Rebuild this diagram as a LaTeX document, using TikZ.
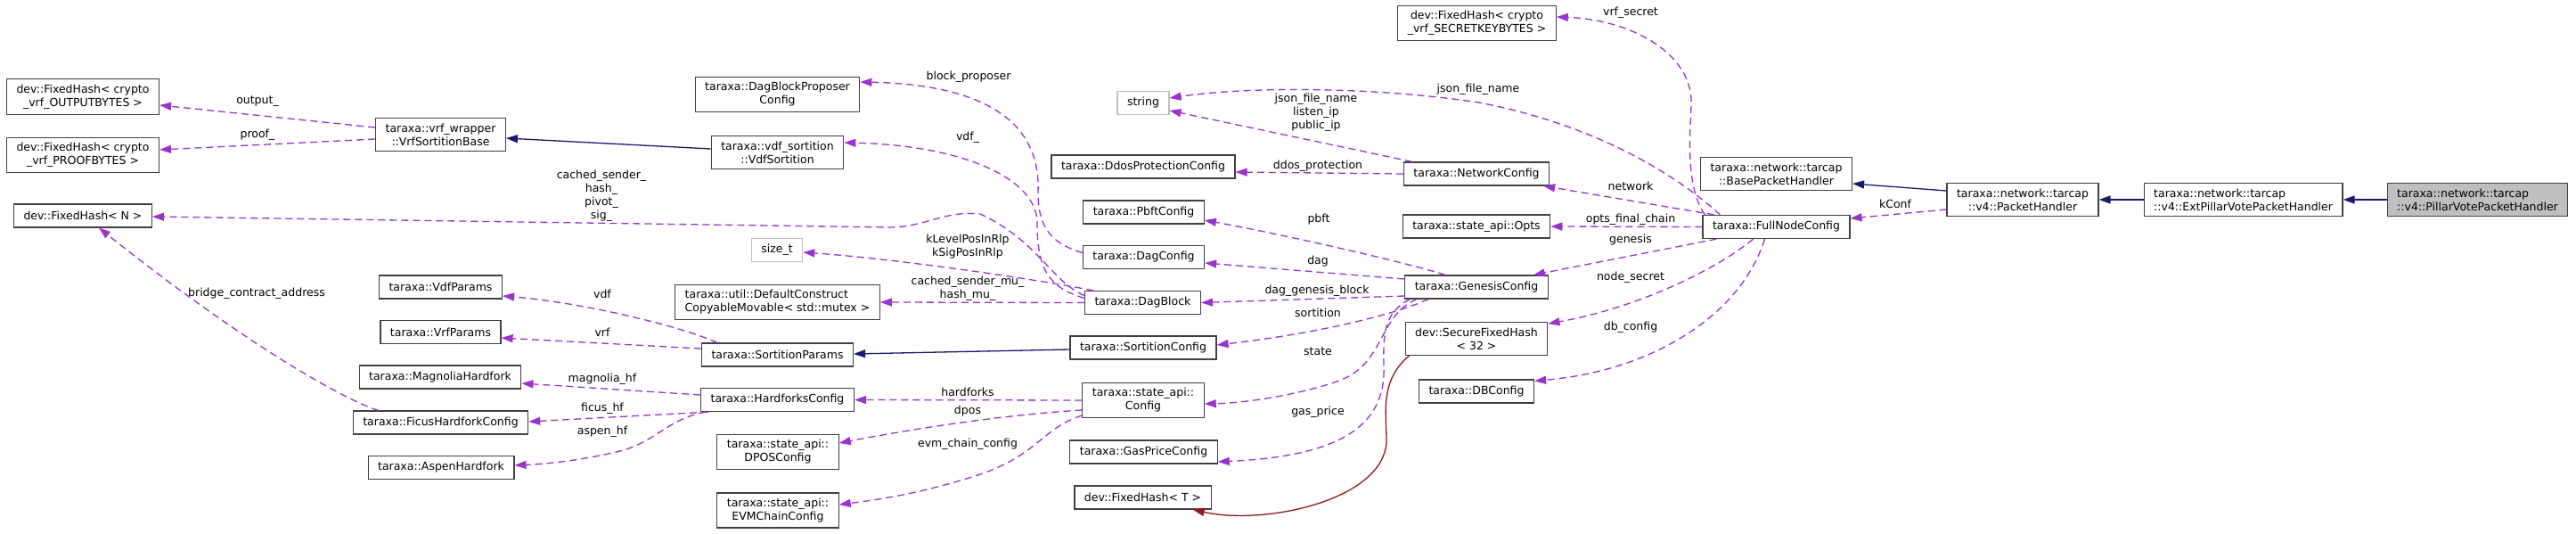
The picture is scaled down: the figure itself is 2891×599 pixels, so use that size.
\documentclass[tikz,border=0pt]{standalone}
\usepackage{fontspec}
\setmainfont{DejaVu Sans}
\usepackage{tikz}
\usetikzlibrary{
  arrows.meta,
  positioning
}
\definecolor{usecolor}{RGB}{154, 50, 205}
\definecolor{inheritcolor}{RGB}{25, 25, 112}
\definecolor{templatecolor}{RGB}{139, 26, 26}
\definecolor{bordercolor}{RGB}{64, 64, 64}
\definecolor{undoccolor}{RGB}{191, 191, 191}
\definecolor{focuscolor}{RGB}{191, 191, 191}
\tikzset{
classtext/.style={
  font=\fontsize{12.5}{15}\selectfont,
  text=black
},
classbox/.style={
  draw=bordercolor,
  line width=1.2pt,
  fill=white,
  inner xsep=11pt,
  inner ysep=6pt,
  minimum height=26pt,
  align=center,
  classtext
},
undocbox/.style={
  classbox,
  draw=undoccolor
},
focusbox/.style={
  classbox,
  fill=focuscolor
},
edgelabel/.style={
  align=center,
  inner sep=0pt,
  classtext
}
}

\begin{document}
\begin{tikzpicture}[
      x=1pt, y=-1pt,
      usearr/.style={-{Triangle[length=13pt,width=9pt]}, line width=1.3pt, draw=usecolor, dash pattern=on 8pt off 5pt},
      inharr/.style={-{Triangle[length=13pt,width=9pt]}, line width=1.3pt, draw=inheritcolor},
      tplarr/.style={-{Triangle[length=13pt,width=9pt]}, line width=1.3pt, draw=templatecolor},
    ]
      \useasboundingbox (0,0) rectangle (2891,599);

      % Column 1: hash types
      \node[classbox] (fhout) at (93,108.5) {dev::FixedHash< crypto\\\_vrf\_OUTPUTBYTES >};
      \node[classbox] (fhproof) at (93,174) {dev::FixedHash< crypto\\\_vrf\_PROOFBYTES >};
      \node[classbox] (fhN) at (93,242) {dev::FixedHash< N >};

      % Column 2: params and hardforks
      \node[classbox] (vrfbase) at (494.5,151) {taraxa::vrf\_wrapper\\::VrfSortitionBase};
      \node[classbox] (vdfparams) at (494.5,322) {taraxa::VdfParams};
      \node[classbox] (vrfparams) at (494.5,372.5) {taraxa::VrfParams};
      \node[classbox] (magnolia) at (494,423) {taraxa::MagnoliaHardfork};
      \node[classbox] (ficus) at (494.5,474) {taraxa::FicusHardforkConfig};
      \node[classbox] (aspen) at (495,524.5) {taraxa::AspenHardfork};

      % Column 3
      \node[classbox] (dbpconf) at (872.5,106) {taraxa::DagBlockProposer\\Config};
      \node[classbox] (vdfsort) at (872.5,171) {taraxa::vdf\_sortition\\::VdfSortition};
      \node[undocbox] (sizet) at (872,280.5) {size\_t};
      \node[classbox, align=left] (defconst) at (872.5,339) {taraxa::util::DefaultConstruct\\CopyableMovable< std::mutex >};
      \node[classbox] (sortparams) at (872.5,398) {taraxa::SortitionParams};
      \node[classbox] (hfconfig) at (872.5,448.5) {taraxa::HardforksConfig};
      \node[classbox] (dposconf) at (873,507) {taraxa::state\_api::\\DPOSConfig};
      \node[classbox] (evmconf) at (873,572.5) {taraxa::state\_api::\\EVMChainConfig};

      % Column 4
      \node[undocbox] (string) at (1283,115.5) {string};
      \node[classbox] (ddos) at (1283,187) {taraxa::DdosProtectionConfig};
      \node[classbox] (pbft) at (1283.5,238) {taraxa::PbftConfig};
      \node[classbox] (dagconf) at (1283.5,288.5) {taraxa::DagConfig};
      \node[classbox] (dagblock) at (1282.5,339.5) {taraxa::DagBlock};
      \node[classbox] (sortconf) at (1283,390) {taraxa::SortitionConfig};
      \node[classbox] (stateconf) at (1283,449) {taraxa::state\_api::\\Config};
      \node[classbox] (gasprice) at (1283.5,507) {taraxa::GasPriceConfig};
      \node[classbox] (fhT) at (1282.5,558) {dev::FixedHash< T >};

      % Column 5
      \node[classbox] (fhsecret) at (1657.5,26) {dev::FixedHash< crypto\\\_vrf\_SECRETKEYBYTES >};
      \node[classbox] (netconf) at (1657,195) {taraxa::NetworkConfig};
      \node[classbox] (opts) at (1657,254) {taraxa::state\_api::Opts};
      \node[classbox] (genesis) at (1657,322) {taraxa::GenesisConfig};
      \node[classbox] (securefh) at (1657,380) {dev::SecureFixedHash\\< 32 >};
      \node[classbox] (dbconf) at (1657,439) {taraxa::DBConfig};

      % Column 6
      \node[classbox] (basepkt) at (1993.5,195) {taraxa::network::tarcap\\::BasePacketHandler};
      \node[classbox] (fullnode) at (1993.5,254.5) {taraxa::FullNodeConfig};

      % Packet handler chain (right to left)
      \node[focusbox, align=left] (pillar) at (2780.5,224) {taraxa::network::tarcap\\::v4::PillarVotePacketHandler};
      \node[classbox, align=left, left=49pt of pillar] (extpkt) {taraxa::network::tarcap\\::v4::ExtPillarVotePacketHandler};
      \node[classbox, left=50pt of extpkt] (pkt) {taraxa::network::tarcap\\::v4::PacketHandler};

      % Edge labels
      \node[edgelabel] (l-output) at (289,114) {output\_};
      \node[edgelabel] (l-proof) at (289,151) {proof\_};
      \node[edgelabel] (l-fhn) at (675,220) {cached\_sender\_\\hash\_\\pivot\_\\sig\_};
      \node[edgelabel] (l-bridge) at (288,329) {bridge\_contract\_address};
      \node[edgelabel] (l-vdf) at (676,330) {vdf};
      \node[edgelabel] (l-vrf) at (676,373) {vrf};
      \node[edgelabel] (l-magnolia) at (676,425) {magnolia\_hf};
      \node[edgelabel] (l-ficus) at (676,458) {ficus\_hf};
      \node[edgelabel] (l-aspen) at (676,484) {aspen\_hf};
      \node[edgelabel] (l-proposer) at (1087,86) {block\_proposer};
      \node[edgelabel] (l-vdfsort) at (1086,154) {vdf\_};
      \node[edgelabel] (l-rlp) at (1086,276.5) {kLevelPosInRlp\\kSigPosInRlp};
      \node[edgelabel] (l-mutex) at (1086,323.5) {cached\_sender\_mu\_\\hash\_mu\_};
      \node[edgelabel] (l-hardforks) at (1086,440) {hardforks};
      \node[edgelabel] (l-dpos) at (1086,461) {dpos};
      \node[edgelabel] (l-evm) at (1086,498) {evm\_chain\_config};
      \node[edgelabel] (l-netstring) at (1477,126) {json\_file\_name\\listen\_ip\\public\_ip};
      \node[edgelabel] (l-ddos) at (1479,186) {ddos\_protection};
      \node[edgelabel] (l-pbft) at (1480,246) {pbft};
      \node[edgelabel] (l-dag) at (1479,293) {dag};
      \node[edgelabel] (l-genblock) at (1478,326) {dag\_genesis\_block};
      \node[edgelabel] (l-sortition) at (1479,351) {sortition};
      \node[edgelabel] (l-state) at (1479,394) {state};
      \node[edgelabel] (l-gas) at (1479,462) {gas\_price};
      \node[edgelabel] (l-jsonfile) at (1659,100) {json\_file\_name};
      \node[edgelabel] (l-vrfsecret) at (1830,14) {vrf\_secret};
      \node[edgelabel] (l-network) at (1830,209) {network};
      \node[edgelabel] (l-opts) at (1830,246) {opts\_final\_chain};
      \node[edgelabel] (l-genesis) at (1830,269) {genesis};
      \node[edgelabel] (l-nodesecret) at (1830,311) {node\_secret};
      \node[edgelabel] (l-dbconf) at (1830,367) {db\_config};
      \node[edgelabel] (l-kconf) at (2127,229) {kConf};

      % Inheritance
      \draw[inharr] ([yshift=4pt]vdfsort.west) -- ([yshift=-4pt]vrfbase.east);
      \draw[inharr] ([yshift=-2pt]sortconf.west) -- ([yshift=1pt]sortparams.east);
      \draw[inharr] ([yshift=10pt]pkt.west) -- ([yshift=-11pt]basepkt.east);
      \draw[inharr] (extpkt.west) -- (pkt.east);
      \draw[inharr] (pillar.west) -- (extpkt.east);

      % Template instance
      \draw[tplarr] ([xshift=5pt]securefh.south west) .. controls (1550,425) and (1555,460) .. (1556,490)
        .. controls (1560,560) and (1420,590) .. ([xshift=-21pt]fhT.south east);

      % Members of VrfSortitionBase and DagBlock
      \draw[usearr] ([yshift=8pt]vrfbase.west) -- ([yshift=-9.5pt]fhout.east);
      \draw[usearr] ([yshift=-5pt]vrfbase.west) -- ([yshift=6pt]fhproof.east);
      \draw[usearr] ([yshift=8pt]dagblock.west) .. controls (1180,316) and (1165,270) .. (1100,240)
        .. controls (1060,236) and (1040,254) .. (1000,255) -- ([yshift=-1pt]fhN.east);
      \draw[usearr] ([yshift=5pt]dagblock.west) .. controls (1175,322) and (1164,300) .. (1164,250)
        .. controls (1164,200) and (1080,163) .. ([yshift=11pt]vdfsort.east);
      \draw[usearr] ([xshift=10pt]dagblock.north west) .. controls (1150,311) and (1000,290) .. ([yshift=-2.5pt]sizet.east);
      \draw[usearr] (dagblock.west) -- (defconst.east);
      \draw[usearr] ([yshift=5pt]dagconf.west) .. controls (1175,272) and (1165,250) .. (1165,215)
        .. controls (1168,140) and (1110,95) .. ([yshift=14pt]dbpconf.east);

      % Members of SortitionParams, HardforksConfig, state_api::Config
      \draw[usearr] ([xshift=18pt]sortparams.north west) .. controls (770,368) and (660,340) .. ([yshift=-10pt]vdfparams.east);
      \draw[usearr] ([yshift=7pt]sortparams.west) -- ([yshift=-6.5pt]vrfparams.east);
      \draw[usearr] ([yshift=5.5pt]hfconfig.west) -- ([yshift=-7pt]magnolia.east);
      \draw[usearr] ([xshift=9pt]hfconfig.south west) -- ([yshift=1pt]ficus.east);
      \draw[usearr] ([xshift=6pt]hfconfig.south west) .. controls (750,470) and (740,492) .. (700,505)
        .. controls (660,515) and (620,520) .. ([yshift=2.5pt]aspen.east);
      \draw[usearr] ([xshift=29pt]ficus.north west) .. controls (390,450) and (280,390) .. ([xshift=18pt]fhN.south);
      \draw[usearr] (stateconf.west) -- (hfconfig.east);
      \draw[usearr] ([yshift=-11pt]stateconf.west) .. controls (1130,465) and (1030,480) .. ([yshift=10pt]dposconf.east);
      \draw[usearr] ([yshift=-17pt]stateconf.west) .. controls (1170,480) and (1165,510) .. (1100,532)
        .. controls (1040,552) and (990,560) .. ([yshift=6.5pt]evmconf.east);

      % Members of NetworkConfig and GenesisConfig
      \draw[usearr] ([xshift=10pt]netconf.north west) -- ([yshift=-8.5pt]string.east);
      \draw[usearr] (netconf.west) -- ([yshift=-6pt]ddos.east);
      \draw[usearr] ([xshift=-35pt]genesis.north) .. controls (1580,295) and (1450,265) .. ([yshift=-9pt]pbft.east);
      \draw[usearr] ([yshift=9pt]genesis.west) -- ([yshift=-6.5pt]dagconf.east);
      \draw[usearr] ([yshift=-10pt]genesis.west) -- (dagblock.east);
      \draw[usearr] ([xshift=-54pt]genesis.south) .. controls (1560,355) and (1470,375) .. ([yshift=3pt]sortconf.east);
      \draw[usearr] ([xshift=-67pt]genesis.south) .. controls (1545,355) and (1555,410) .. (1500,428)
        .. controls (1460,442) and (1400,452) .. ([yshift=-4pt]stateconf.east);
      \draw[usearr] ([xshift=6pt]genesis.south west) .. controls (1555,350) and (1552,370) .. (1553,410)
        .. controls (1556,480) and (1500,512) .. ([yshift=-11pt]gasprice.east);

      % Members of FullNodeConfig
      \draw[usearr] ([xshift=-63pt]fullnode.north) .. controls (1880,195) and (1790,140) .. (1660,115)
        .. controls (1540,97) and (1400,97) .. ([yshift=5.5pt]string.east);
      \draw[usearr] ([xshift=-80pt]fullnode.north) .. controls (1895,215) and (1895,170) .. (1898,120)
        .. controls (1902,60) and (1830,22) .. ([yshift=7pt]fhsecret.east);
      \draw[usearr] ([xshift=-70pt]fullnode.north) -- ([xshift=-7pt]netconf.south east);
      \draw[usearr] (fullnode.west) -- (opts.east);
      \draw[usearr] ([xshift=-67pt]fullnode.south) -- ([xshift=-17pt]genesis.north east);
      \draw[usearr] ([xshift=-26pt]fullnode.south) .. controls (1930,300) and (1840,345) .. ([yshift=-2pt]securefh.north east);
      \draw[usearr] ([xshift=-13pt]fullnode.south) .. controls (1955,350) and (1860,415) .. ([yshift=-2pt]dbconf.north east);

      % Member of PacketHandler
      \draw[usearr] ([yshift=-11pt]pkt.west) -- ([yshift=9.5pt]fullnode.east);
    \end{tikzpicture}
\end{document}
